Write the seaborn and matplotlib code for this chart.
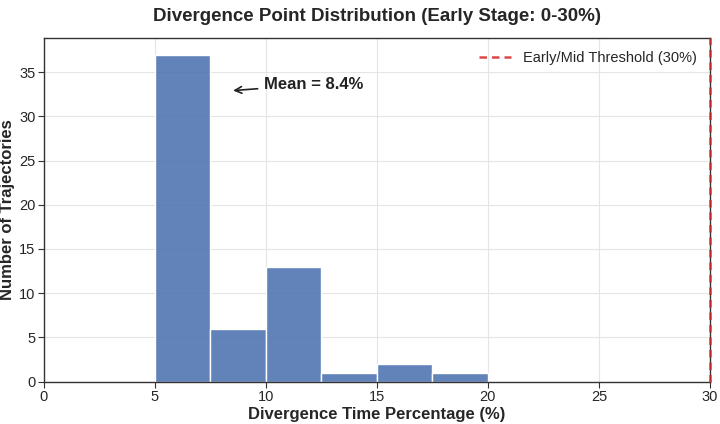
import numpy as np
import pandas as pd
import seaborn as sns
import matplotlib.pyplot as plt

# histogram bins (left edge, % of time) and counts
bin_left = [5.0, 7.5, 10.0, 12.5, 15.0, 17.5]
counts = [37, 6, 13, 1, 2, 1]
bin_width = 2.5
mean_pct = 8.4
threshold = 30

df = pd.DataFrame({"pct": [b + bin_width / 2 for b in bin_left], "n": counts})

sns.set_style("whitegrid")
plt.rcParams['font.family'] = ['Liberation Sans', 'DejaVu Sans']
plt.rcParams['axes.edgecolor'] = '#333333'

fig, ax = plt.subplots(figsize=(7.2, 4.24), dpi=100)
sns.histplot(data=df, x="pct", weights="n", binwidth=bin_width,
             binrange=(bin_left[0], bin_left[-1] + bin_width), color="#4C72B0",
             alpha=0.88, edgecolor="white", linewidth=1, ax=ax)

ax.axvline(threshold, color="#d62728", linestyle="--", linewidth=1.8, alpha=0.85,
           zorder=3, clip_on=False, dashes=(3, 2),
           label="Early/Mid Threshold (30%)")
ax.annotate(f"Mean = {mean_pct}%", xy=(mean_pct, 32.9), xytext=(mean_pct + 1.5, 33.6),
            fontsize=12, fontweight="bold", ha="left", va="center", color="#222222",
            arrowprops=dict(arrowstyle="->", color="#222222", lw=1.2))

ax.set_xlim(0, 30)
ax.set_ylim(0, 38.85)
ax.set_xlabel("Divergence Time Percentage (%)", fontsize=12, fontweight="bold", labelpad=2)
ax.set_ylabel("Number of Trajectories", fontsize=12, fontweight="bold", labelpad=3)
ax.set_title("Divergence Point Distribution (Early Stage: 0-30%)", fontsize=13.5,
             fontweight="bold", pad=12)
ax.tick_params(axis="both", labelsize=10.5, length=4, pad=2, color="#333333",
               left=True, bottom=True)
ax.grid(True, color="#e5e5e5", linewidth=0.8)
for s in ax.spines.values():
    s.set_linewidth(1.0)
ax.legend(loc="upper right", frameon=False, fontsize=10.5, handlelength=2.2)

fig.subplots_adjust(left=0.061, right=0.986, top=0.91, bottom=0.1)
fig.savefig("out.png", dpi=100)
